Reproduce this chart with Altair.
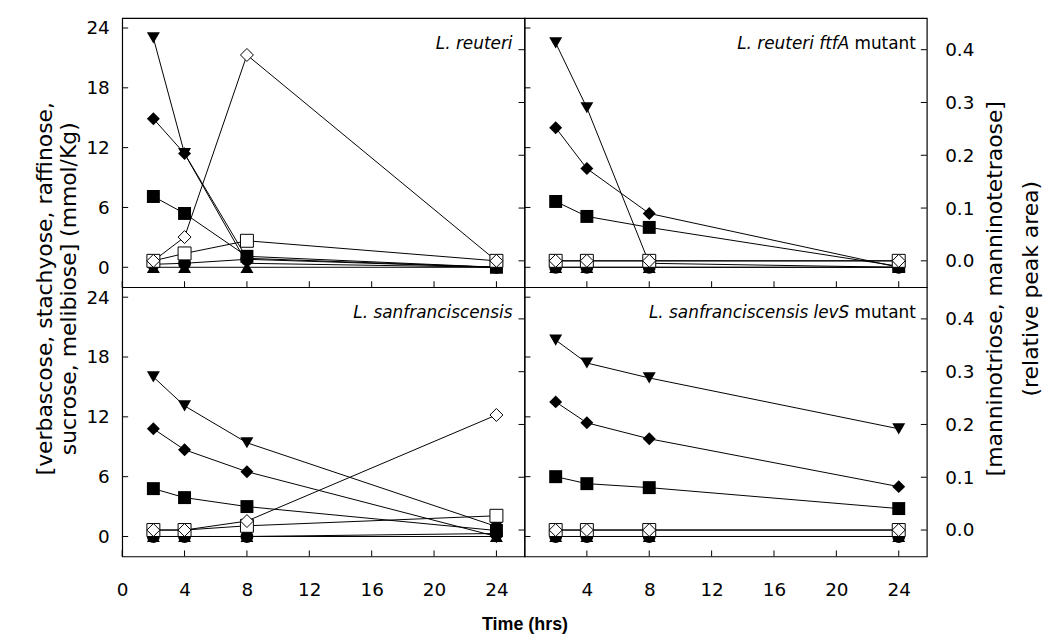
import altair as alt
import pandas as pd

# ---------------- data ----------------
times = [2, 4, 8, 24]
panel_keys = ["reuteri", "ftfA", "sanfr", "levS"]

# left axis sugars (mmol/Kg), one list per panel in order reuteri, ftfA, sanfr, levS
stachyose = [[23.0, 11.4, 0.4, 0.0], [22.5, 16.0, 0.4, 0.0], [16.0, 13.1, 9.4, 1.0], [19.7, 17.4, 15.9, 10.8]]
raffinose = [[14.9, 11.4, 0.9, 0.0], [14.0, 9.9, 5.4, 0.0], [10.8, 8.7, 6.5, 0.0], [13.5, 11.4, 9.8, 5.0]]
sucrose = [[7.1, 5.4, 1.1, 0.0], [6.6, 5.1, 4.0, 0.1], [4.8, 3.9, 3.0, 0.6], [6.0, 5.3, 4.9, 2.8]]
verbascose = [[0.3, 0.4, 0.8, 0.0], [0.0, 0.0, 0.0, 0.0], [0.0, 0.0, 0.0, 0.3], [0.0, 0.0, 0.0, 0.0]]
melibiose = [[0.0, 0.0, 0.0, 0.0], [0.0, 0.0, 0.0, 0.0], [0.0, 0.0, 0.0, 0.0], [0.0, 0.0, 0.0, 0.0]]
# right axis (relative peak area)
manninotetraose = [[0.0, 0.014, 0.038, 0.0], [0.0, 0.0, 0.0, 0.0], [0.0, 0.0, 0.008, 0.027], [0.0, 0.0, 0.0, 0.0]]
manninotriose = [[0.0, 0.045, 0.39, 0.0], [0.0, 0.0, 0.0, 0.0], [0.0, 0.0, 0.017, 0.218], [0.0, 0.0, 0.0, 0.0]]

left_series = ["stachyose", "raffinose", "sucrose", "verbascose", "melibiose"]
right_series = ["manninotetraose", "manninotriose"]
all_series = left_series + right_series
series_shapes = ["triangle-down", "diamond", "square", "circle", "triangle-up", "square", "diamond"]
series_sizes = [170, 170, 80, 80, 120, 90, 220]
# drawing order of the open symbols: squares first, diamonds on top
right_draw_rank = [0, 1]

left_ticks = [0, 6, 12, 18, 24]
right_ticks = [0.0, 0.1, 0.2, 0.3, 0.4]
x_ticks_first = [0, 4, 8, 12, 16, 20, 24]
x_ticks_other = [4, 8, 12, 16, 20, 24]

label_italic = ["L. reuteri", "L. reuteri ftfA", "L. sanfranciscensis", "L. sanfranciscensis levS"]
label_plain = ["", "mutant", "", "mutant"]

left_title = ["[verbascose, stachyose, raffinose,", "sucrose, melibiose] (mmol/Kg)"]
right_title = ["[manninotriose, manninotetraose]", "(relative peak area)"]
x_title = "Time (hrs)"

values = {"stachyose": stachyose, "raffinose": raffinose, "sucrose": sucrose,
          "verbascose": verbascose, "melibiose": melibiose,
          "manninotriose": manninotriose, "manninotetraose": manninotetraose}

rows = []
for pi, pk in enumerate(panel_keys):
    for s in all_series:
        side = "L" if s in left_series else "R"
        rank = right_draw_rank[right_series.index(s)] if side == "R" else 0
        for t, v in zip(times, values[s][pi]):
            rows.append({"panel": pk, "series": s, "side": side, "time": t, "value": v, "rank": rank})
df = pd.DataFrame(rows)

# ---------------- layout ----------------
W, H = 405, 271
XDOM = [0, 25.8]
LDOM = [-2.0, 25.0]
RDOM = [-0.05, 0.46]
FONT = "DejaVu Sans"
TICK = 6

shape_scale = alt.Scale(domain=all_series, range=series_shapes)
size_scale = alt.Scale(domain=all_series, range=series_sizes)


def panel(pi, show_left, show_right, show_x, first_col, left_t=False, right_t=False, x_t=False):
    pk = panel_keys[pi]
    d = df[df.panel == pk]
    xs = alt.Scale(domain=XDOM, nice=False, zero=False)
    ls = alt.Scale(domain=LDOM, nice=False, zero=False)
    rs = alt.Scale(domain=RDOM, nice=False, zero=False)

    if show_x:
        xkw = dict(values=x_ticks_first if first_col else x_ticks_other, domain=False, ticks=False,
                   grid=False, labelPadding=24, labelFont=FONT, labelFontSize=18.5, labelColor="black",
                   labelFlush=False)
        if x_t:
            xkw.update(title=x_title, titleX=W, titleY=69, titleAlign="center", titleBaseline="middle",
                       titleFont="Liberation Sans", titleFontSize=18, titleFontWeight="bold",
                       titleColor="black")
        else:
            xkw.update(title=None)
        xaxis = alt.Axis(**xkw)
    else:
        xaxis = None

    if show_left:
        lkw = dict(orient="left", values=left_ticks, domain=False, ticks=False, grid=False,
                   labelPadding=13, labelFont=FONT, labelFontSize=18.5, labelColor="black")
        if left_t:
            lkw.update(title=left_title, titleX=-88, titleY=272, titleAngle=270, titleAlign="center",
                       titleBaseline="top", titleFont=FONT, titleFontSize=22, titleFontWeight="normal",
                       titleLineHeight=24, titleColor="black")
        else:
            lkw.update(title=None)
        laxis = alt.Axis(**lkw)
    else:
        laxis = None

    if show_right:
        rkw = dict(orient="right", values=right_ticks, format=".1f", domain=False, ticks=False, grid=False,
                   labelPadding=18, labelFont=FONT, labelFontSize=18.5, labelColor="black")
        if right_t:
            rkw.update(title=right_title, titleX=58, titleY=272, titleAngle=270, titleAlign="center",
                       titleBaseline="top", titleFont=FONT, titleFontSize=22, titleFontWeight="normal",
                       titleLineHeight=36, titleColor="black")
        else:
            rkw.update(title=None)
        raxis = alt.Axis(**rkw)
    else:
        raxis = None

    dl = d[d.side == "L"]
    dr = d[d.side == "R"]

    left_lines = alt.Chart(dl).mark_line(color="black", strokeWidth=1).encode(
        x=alt.X("time:Q", scale=xs, axis=xaxis),
        y=alt.Y("value:Q", scale=ls, axis=laxis),
        detail="series:N",
    )
    left_pts = alt.Chart(dl).mark_point(filled=True, color="black", opacity=1).encode(
        x=alt.X("time:Q", scale=xs),
        y=alt.Y("value:Q", scale=ls),
        shape=alt.Shape("series:N", scale=shape_scale, legend=None),
        size=alt.Size("series:N", scale=size_scale, legend=None),
    )
    lt = alt.Chart(pd.DataFrame({"v": left_ticks})).mark_rule(color="black", strokeWidth=1).encode(
        y=alt.Y("v:Q", scale=ls), x=alt.value(0), x2=alt.value(TICK))
    xt = alt.Chart(pd.DataFrame({"v": x_ticks_first})).mark_rule(color="black", strokeWidth=1).encode(
        x=alt.X("v:Q", scale=xs), y=alt.value(H), y2=alt.value(H - TICK))

    layers_left = [left_lines, left_pts, lt, xt]
    if label_plain[pi]:
        reg = alt.Chart(pd.DataFrame({"t": [label_plain[pi]]})).mark_text(
            align="right", baseline="alphabetic", font=FONT, fontSize=17, color="black").encode(
            text="t:N", x=alt.value(W - 11), y=alt.value(31))
        it = alt.Chart(pd.DataFrame({"t": [label_italic[pi]]})).mark_text(
            align="right", baseline="alphabetic", font=FONT, fontSize=17, fontStyle="italic",
            color="black").encode(text="t:N", x=alt.value(W - 11 - 67), y=alt.value(31))
        layers_left += [it, reg]
    else:
        it = alt.Chart(pd.DataFrame({"t": [label_italic[pi]]})).mark_text(
            align="right", baseline="alphabetic", font=FONT, fontSize=17, fontStyle="italic",
            color="black").encode(text="t:N", x=alt.value(W - 12), y=alt.value(31))
        layers_left += [it]

    right_lines = alt.Chart(dr).mark_line(color="black", strokeWidth=1).encode(
        x=alt.X("time:Q", scale=xs),
        y=alt.Y("value:Q", scale=rs, axis=raxis),
        detail="series:N",
    )
    right_pts = alt.Chart(dr).mark_point(filled=True, fill="white", stroke="black", strokeWidth=1,
                                         opacity=1).encode(
        x=alt.X("time:Q", scale=xs),
        y=alt.Y("value:Q", scale=rs),
        shape=alt.Shape("series:N", scale=shape_scale, legend=None),
        size=alt.Size("series:N", scale=size_scale, legend=None),
        order=alt.Order("rank:Q", sort="ascending"),
    )
    rt = alt.Chart(pd.DataFrame({"v": right_ticks})).mark_rule(color="black", strokeWidth=1).encode(
        y=alt.Y("v:Q", scale=rs), x=alt.value(W), x2=alt.value(W - TICK))

    inner_l = alt.layer(*layers_left)
    inner_r = alt.layer(right_lines, right_pts, rt)
    return alt.layer(inner_l, inner_r).resolve_scale(y="independent").properties(width=W, height=H)


p1 = panel(0, True, False, False, True, left_t=True)
p2 = panel(1, False, True, False, False, right_t=True)
p3 = panel(2, True, False, True, True, x_t=True)
p4 = panel(3, False, True, True, False)

chart = alt.concat(p1, p2, p3, p4, columns=2, spacing=0, bounds="flush").properties(
    padding={"left": 33, "top": 15, "right": 5, "bottom": 5},
    background="white",
).configure_view(stroke="black", strokeWidth=1.2).configure_concat(spacing=0)

chart.save("out.html", embed_options={"renderer": "svg", "actions": False})
